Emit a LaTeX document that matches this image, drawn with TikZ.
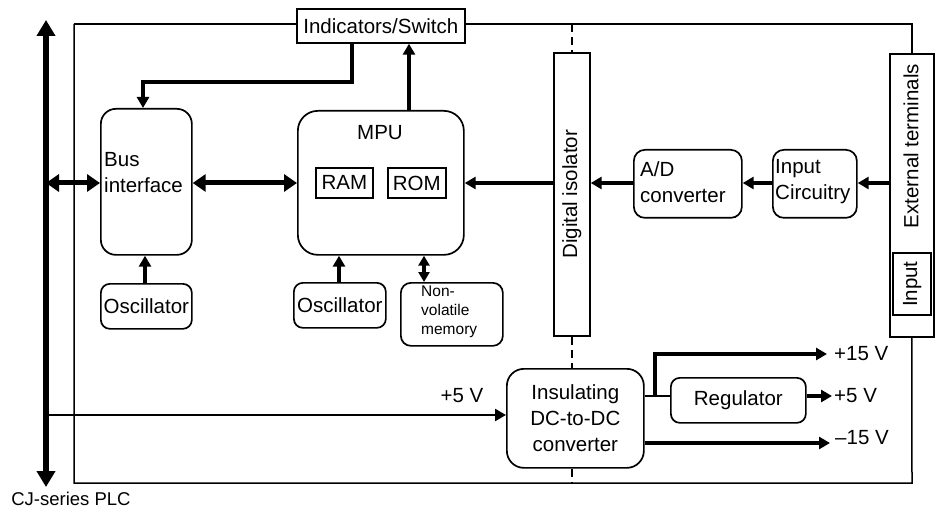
\documentclass[tikz,border=0pt]{standalone}
\usepackage{fontspec}
\setmainfont{Liberation Sans}
\usetikzlibrary{arrows.meta,calc}
\begin{document}
\begin{tikzpicture}[x=1pt,y=-1pt,
  font=\fontsize{20.5}{26}\selectfont,
  box/.style={draw,line width=1.7pt,inner sep=0pt,anchor=north west},
  sbox/.style={draw,line width=1.7pt,inner sep=0pt,anchor=north west},
  frame/.style={line width=1.5pt},
  isodash/.style={line width=2.6pt,dash pattern=on 8pt off 5pt},
  txt/.style={inner sep=0pt},
  arr/.style={line width=3.2pt,-{Triangle[length=11pt,width=12pt]}},
  darr/.style={line width=3.2pt,{Triangle[length=10pt,width=11pt]}-{Triangle[length=10pt,width=11pt]}},
  bigd/.style={line width=5pt,{Triangle[length=13pt,width=17pt]}-{Triangle[length=13pt,width=17pt]}},
]
\useasboundingbox (0,0) rectangle (937,513);

% boxes
\node[sbox,minimum width=168pt,minimum height=34pt] (ind) at (296,8) {};
\node[txt] (indt) at (ind.center) {Indicators/Switch};
\node[box,rounded corners=15pt,minimum width=91pt,minimum height=146pt] (bus) at (100,108) {};
\node[txt,align=left,anchor=north west] (bust) at (104,152) {Bus\\interface};
\node[box,rounded corners=20pt,minimum width=166pt,minimum height=144pt] (mpu) at (297,110) {};
\node[txt] (mput) at (380,133) {MPU};
\node[sbox,minimum width=57pt,minimum height=30pt] (ram) at (315,167) {};
\node[txt] (ramt) at (ram.center) {RAM};
\node[sbox,minimum width=58pt,minimum height=30pt] (rom) at (387,167) {};
\node[txt] (romt) at ([yshift=-1pt]rom.center) {ROM};
\node[sbox,minimum width=36pt,minimum height=283pt] (iso) at (553,52) {};
\node[txt,rotate=90] (isot) at (iso.center) {Digital isolator};
\node[box,rounded corners=11pt,minimum width=108pt,minimum height=68pt] (ad) at (633,149) {};
\node[txt,align=left,anchor=west] (adt) at (640,182) {A/D\\converter};
\node[box,rounded corners=11pt,minimum width=84pt,minimum height=68pt] (inc) at (772,149) {};
\node[txt,align=left,anchor=west] (inct) at (775,182) {Input\\Circuitry};
\node[sbox,minimum width=44pt,minimum height=283pt] (ext) at (889,53) {};
\node[txt,rotate=90] (extt) at (911,146) {External terminals};
\node[draw,line width=2.2pt,inner sep=0pt,anchor=north west,minimum width=38pt,minimum height=62pt] (inp) at (892,252) {};
\node[txt,rotate=90] (inpt) at (inp.center) {Input};
\node[box,rounded corners=9pt,minimum width=91pt,minimum height=45pt] (osc1) at (100,283) {};
\node[txt] (osc1t) at (osc1.center) {Oscillator};
\node[box,rounded corners=9pt,minimum width=92pt,minimum height=45pt] (osc2) at (293,282) {};
\node[txt] (osc2t) at (osc2.center) {Oscillator};
\node[box,rounded corners=10pt,minimum width=102pt,minimum height=63pt] (nvm) at (400,282) {};
\node[txt,align=left,anchor=north west,font=\fontsize{15.5}{19}\selectfont] (nvmt) at (421,286) {Non-\\volatile\\memory};
\node[box,rounded corners=17pt,minimum width=137pt,minimum height=99pt] (dc) at (506,368) {};
\node[txt,align=center] (dct) at (dc.center) {Insulating\\DC-to-DC\\converter};
\node[box,rounded corners=9pt,minimum width=135pt,minimum height=45pt] (reg) at (670,377) {};
\node[txt] (regt) at (reg.center) {Regulator};

% frame
\coordinate (fTL) at (74,24);
\coordinate (fBL) at (74,483);
\coordinate (fBR) at (912,483);
\draw[frame] (fTL) -- (ind.west |- fTL);
\draw[frame] (ind.east |- fTL) -- (ext.north |- fTL) -- (ext.north);
\draw[frame] (ext.south) -- (fBR) -- (fBL) -- (fTL);
\draw[isodash] (iso.north |- fTL) -- (iso.north);
\draw[isodash] (iso.south) -- (iso.south |- dc.north);
\draw[isodash] (iso.south |- dc.south) -- (iso.south |- fBR);

% PLC bus
\coordinate (bt) at (46,20);
\coordinate (bb) at (46,487);
\draw[line width=5.5pt,{Triangle[length=16pt,width=18pt]}-{Triangle[length=16pt,width=18pt]}] (bt) -- (bb);
\node[txt,font=\fontsize{18.5}{22}\selectfont] (plc) at (71,499) {CJ-series PLC};

% connectors
\coordinate (r) at (0,183);
\draw[bigd] (bt |- r) -- (bus.west |- r);
\draw[bigd] (bus.east |- r) -- (mpu.west |- r);
\draw[arr] (iso.west |- r) -- (mpu.east |- r);
\draw[arr] (ad.west |- r) -- (iso.east |- r);
\draw[arr] (inc.west |- r) -- (ad.east |- r);
\draw[arr] (ext.west |- r) -- (inc.east |- r);
\coordinate (k1) at (352,82);
\draw[arr] (ind.south -| k1) -- (k1) -- (143,82) -- (bus.north -| 143,0);
\coordinate (k2) at (409,0);
\draw[arr] (mpu.north -| k2) -- (ind.south -| k2);
\draw[arr] (osc1.north -| 145,0) -- (bus.south -| 145,0);
\draw[arr] (osc2.north -| 339,0) -- (mpu.south -| 339,0);
\draw[darr] (mpu.south -| 424,0) -- (nvm.north -| 424,0);

% power
\coordinate (p5) at (0,415);
\draw[line width=2.5pt,-{Triangle[length=11pt,width=12pt]}] (bt |- p5) -- (dc.west |- p5);
\node[txt] (l5a) at (462,396) {+5 V};
\coordinate (pr) at (0,396);
\draw[line width=1.5pt] (dc.east |- pr) -- (reg.west |- pr);
\coordinate (o15) at (827,354);
\draw[arr] (655,396) -- (655,354) -- (o15);
\node[txt,anchor=west] (l15) at (834,354) {+15 V};
\coordinate (o5) at (832,396);
\draw[arr] (reg.east |- o5) -- (o5);
\node[txt,anchor=west] (l5b) at (834,396) {+5 V};
\coordinate (om) at (830,443);
\draw[arr] (dc.east |- om) -- (om);
\node[txt,anchor=west] (lm) at (835,438) {–15 V};
\end{tikzpicture}
\end{document}
